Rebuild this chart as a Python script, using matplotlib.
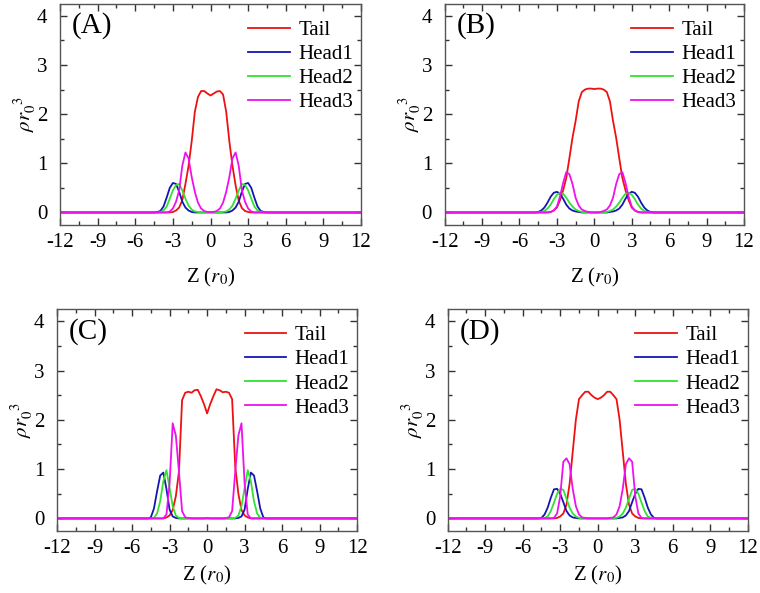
import numpy as np
import matplotlib
matplotlib.use('Agg')
import matplotlib.pyplot as plt
from matplotlib.ticker import MultipleLocator

plt.rcParams['font.family'] = 'serif'
plt.rcParams['font.serif'] = ['Liberation Serif', 'DejaVu Serif']
plt.rcParams['mathtext.fontset'] = 'stix'

# z grid: -12, then -5 .. 5 step 0.25, then 12
Z = np.concatenate([[-12.0], np.arange(-5.0, 5.001, 0.25), [12.0]])

# ---------- (A) ----------
tail_a = [0, 0, 0, 0, 0, 0, 0, 0, 0,
          0.01, 0.04, 0.10, 0.25, 0.58, 0.95, 1.45, 2.05, 2.35, 2.47, 2.47, 2.42,
          2.38,
          2.42, 2.46, 2.47, 2.40, 2.05, 1.45, 0.95, 0.55, 0.24, 0.09, 0.03, 0.01,
          0, 0, 0, 0, 0, 0, 0, 0, 0]
head1_a = [0, 0, 0, 0, 0.01, 0.03, 0.12, 0.30, 0.50, 0.60, 0.58, 0.42, 0.22, 0.10,
           0.04, 0.01, 0, 0, 0, 0, 0,
           0,
           0, 0, 0, 0, 0, 0.01, 0.04, 0.10, 0.22, 0.42, 0.58, 0.60, 0.50, 0.30,
           0.12, 0.03, 0.01, 0, 0, 0, 0]
head2_a = [0, 0, 0, 0, 0, 0.01, 0.04, 0.12, 0.28, 0.45, 0.56, 0.58, 0.45, 0.28,
           0.14, 0.06, 0.02, 0.01, 0, 0, 0,
           0,
           0, 0, 0, 0.01, 0.02, 0.06, 0.14, 0.28, 0.45, 0.58, 0.56, 0.45, 0.28,
           0.12, 0.04, 0.01, 0, 0, 0, 0, 0]
head3_a = [0, 0, 0, 0, 0, 0, 0, 0, 0.02, 0.08, 0.22, 0.45, 0.95, 1.22, 1.10, 0.72,
           0.42, 0.20, 0.08, 0.03, 0.01,
           0.01,
           0.01, 0.03, 0.08, 0.20, 0.42, 0.72, 1.10, 1.22, 0.95, 0.45, 0.22, 0.08,
           0.02, 0, 0, 0, 0, 0, 0, 0, 0]

# ---------- (B) ----------
tail_b = [0, 0, 0, 0, 0, 0, 0, 0.01, 0.04, 0.10, 0.25, 0.45, 0.70, 1.10, 1.52,
          1.86, 2.26, 2.45, 2.50, 2.52, 2.52,
          2.51,
          2.52, 2.52, 2.50, 2.45, 2.26, 1.86, 1.52, 1.10, 0.70, 0.45, 0.25, 0.10,
          0.04, 0.01, 0, 0, 0, 0, 0, 0, 0]
head1_b = [0, 0, 0, 0.01, 0.04, 0.10, 0.20, 0.32, 0.40, 0.42, 0.38, 0.28, 0.16,
           0.08, 0.04, 0.02, 0.01, 0, 0, 0, 0,
           0,
           0, 0, 0, 0, 0.01, 0.02, 0.04, 0.08, 0.16, 0.28, 0.38, 0.42, 0.40, 0.32,
           0.20, 0.10, 0.04, 0.01, 0, 0, 0]
head2_b = [0, 0, 0, 0, 0.01, 0.03, 0.08, 0.16, 0.27, 0.36, 0.40, 0.38, 0.30, 0.20,
           0.12, 0.06, 0.03, 0.01, 0, 0, 0,
           0,
           0, 0, 0, 0.01, 0.03, 0.06, 0.12, 0.20, 0.30, 0.38, 0.40, 0.36, 0.27,
           0.16, 0.08, 0.03, 0.01, 0, 0, 0, 0]
head3_b = [0, 0, 0, 0, 0, 0, 0, 0.01, 0.04, 0.12, 0.32, 0.60, 0.82, 0.78, 0.58,
           0.30, 0.14, 0.06, 0.03, 0.01, 0,
           0,
           0, 0.01, 0.03, 0.06, 0.14, 0.30, 0.58, 0.78, 0.82, 0.60, 0.32, 0.12,
           0.04, 0.01, 0, 0, 0, 0, 0, 0, 0]

# ---------- (C) ----------
tail_c = [0, 0, 0, 0, 0, 0, 0, 0, 0.02, 0.06, 0.17, 0.45, 0.95, 2.40, 2.55, 2.57,
          2.55, 2.60, 2.61, 2.48, 2.32,
          2.13,
          2.32, 2.48, 2.62, 2.60, 2.56, 2.57, 2.55, 2.42, 1.05, 0.50, 0.17, 0.06,
          0.02, 0, 0, 0, 0, 0, 0, 0, 0]
head1_c = [0, 0, 0, 0.02, 0.20, 0.55, 0.87, 0.93, 0.60, 0.18, 0.04, 0.01, 0, 0,
           0, 0, 0, 0, 0, 0, 0,
           0,
           0, 0, 0, 0, 0, 0, 0, 0, 0, 0.01, 0.04, 0.18, 0.60, 0.93, 0.87, 0.55,
           0.20, 0.02, 0, 0, 0]
head2_c = [0, 0, 0, 0, 0.01, 0.10, 0.35, 0.75, 0.98, 0.62, 0.25, 0.06, 0.01, 0,
           0, 0, 0, 0, 0, 0, 0,
           0,
           0, 0, 0, 0, 0, 0, 0, 0, 0.01, 0.06, 0.25, 0.62, 0.98, 0.75, 0.35,
           0.10, 0.01, 0, 0, 0, 0]
head3_c = [0, 0, 0, 0, 0, 0, 0, 0, 0.08, 0.70, 1.93, 1.68, 0.95, 0.15, 0.02, 0.01,
           0, 0, 0, 0, 0,
           0.01,
           0, 0, 0, 0, 0, 0.01, 0.02, 0.15, 0.95, 1.68, 1.93, 0.70, 0.08, 0, 0,
           0, 0, 0, 0, 0, 0]

# ---------- (D) ----------
tail_d = [0, 0, 0, 0, 0, 0, 0, 0, 0.01, 0.04, 0.10, 0.28, 0.70, 1.35, 2.00, 2.42,
          2.50, 2.57, 2.57, 2.50, 2.45,
          2.42,
          2.45, 2.50, 2.57, 2.57, 2.50, 2.42, 2.00, 1.35, 0.70, 0.28, 0.10, 0.04,
          0.01, 0, 0, 0, 0, 0, 0, 0, 0]
head1_d = [0, 0, 0, 0.01, 0.08, 0.22, 0.42, 0.59, 0.60, 0.50, 0.33, 0.15, 0.06,
           0.02, 0.01, 0, 0, 0, 0, 0, 0,
           0,
           0, 0, 0, 0, 0, 0, 0.01, 0.02, 0.06, 0.15, 0.33, 0.50, 0.60, 0.59, 0.42,
           0.22, 0.08, 0.01, 0, 0, 0]
head2_d = [0, 0, 0, 0, 0.01, 0.04, 0.15, 0.32, 0.50, 0.60, 0.58, 0.40, 0.22, 0.10,
           0.04, 0.01, 0, 0, 0, 0, 0,
           0,
           0, 0, 0, 0, 0, 0.01, 0.04, 0.10, 0.22, 0.40, 0.58, 0.60, 0.50, 0.32,
           0.15, 0.04, 0.01, 0, 0, 0, 0]
head3_d = [0, 0, 0, 0, 0, 0, 0, 0.01, 0.10, 0.45, 1.15, 1.22, 1.10, 0.60, 0.25,
           0.08, 0.02, 0.01, 0, 0, 0,
           0,
           0, 0, 0, 0.01, 0.02, 0.08, 0.25, 0.60, 1.10, 1.22, 1.15, 0.45, 0.10,
           0.01, 0, 0, 0, 0, 0, 0, 0]

panels = ['(A)', '(B)', '(C)', '(D)']
series = [
    [tail_a, head1_a, head2_a, head3_a],
    [tail_b, head1_b, head2_b, head3_b],
    [tail_c, head1_c, head2_c, head3_c],
    [tail_d, head1_d, head2_d, head3_d],
]
names = ['Tail', 'Head1', 'Head2', 'Head3']
colors = ['#ee1111', '#1515b5', '#33e033', '#ee11ee']
x_ticks = [-12, -9, -6, -3, 0, 3, 6, 9, 12]

# axes boxes in figure fractions [left, bottom, width, height]
boxes = [
    [0.079, 0.621, 0.396, 0.373],
    [0.585, 0.621, 0.394, 0.373],
    [0.075, 0.105, 0.395, 0.374],
    [0.589, 0.105, 0.395, 0.374],
]
xlabel_pads = [10, 10, 4, 4]

fig = plt.figure(figsize=(7.6, 5.93), dpi=100)

for box, tag, ys, lp in zip(boxes, panels, series, xlabel_pads):
    ax = fig.add_axes(box)
    for y, name, c in zip(ys, names, colors):
        ax.plot(Z, y, color=c, lw=1.3, label=name)

    ax.set_xlim(-12, 12)
    ax.set_ylim(-0.25, 4.25)
    ax.set_xticks(x_ticks)
    ax.set_xticklabels([str(t) for t in x_ticks])
    ax.set_yticks([0, 1, 2, 3, 4])
    ax.xaxis.set_minor_locator(MultipleLocator(1.5))
    ax.yaxis.set_minor_locator(MultipleLocator(0.5))
    ax.tick_params(which='both', direction='in', top=True, right=True,
                   labelsize=15, color='#333333')
    ax.tick_params(axis='x', which='major', pad=6)
    ax.tick_params(axis='y', which='major', pad=9)
    ax.tick_params(which='major', length=5, width=1)
    ax.tick_params(which='minor', length=3, width=1)
    for s in ax.spines.values():
        s.set_color('#555555')
        s.set_linewidth(1.0)

    ax.set_xlabel(r'Z ($r_0$)', fontsize=15, labelpad=lp)
    ax.set_ylabel(r'$\rho r_0^{\ \ 3}$', fontsize=15, labelpad=-1)
    ax.text(0.04, 0.96, tag, transform=ax.transAxes, va='top', ha='left',
            fontsize=21)
    ax.legend(loc='upper right', bbox_to_anchor=(1.03, 1.0), frameon=False,
              fontsize=15, handlelength=2.0, handletextpad=0.4,
              labelspacing=0.22, borderaxespad=0.6, borderpad=0.2)

fig.savefig('out.png', dpi=100)
